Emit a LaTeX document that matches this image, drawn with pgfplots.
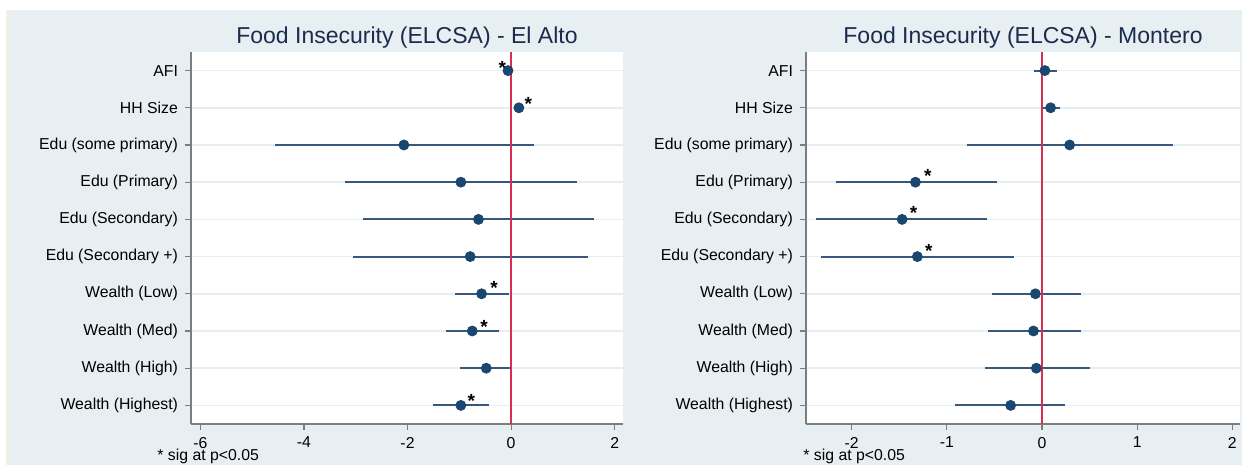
\documentclass[border=0pt]{standalone}
\usepackage{fontspec}
\setmainfont{Liberation Sans}
\usepackage{pgfplots}
\usepackage{pgfplotstable}
\pgfplotsset{compat=1.18}

\definecolor{bgcol}{RGB}{232,239,242}
\definecolor{creamcol}{RGB}{244,239,224}
\definecolor{navy}{RGB}{26,71,111}
\definecolor{cicol}{RGB}{55,88,124}
\definecolor{redline}{RGB}{214,47,82}
\definecolor{titlecol}{RGB}{28,43,78}
\definecolor{gridcol}{RGB}{230,238,240}
\definecolor{axgray}{RGB}{125,125,125}

% row (10 = top), estimate, lower CI, upper CI
\pgfplotstableread{
y est lo hi
10 -0.06 -0.10 -0.02
9 0.15 0.10 0.20
8 -2.07 -4.56 0.45
7 -0.97 -3.20 1.27
6 -0.63 -2.86 1.60
5 -0.79 -3.06 1.49
4 -0.57 -1.09 -0.05
3 -0.75 -1.25 -0.24
2 -0.48 -0.98 0.02
1 -0.97 -1.50 -0.43
}\elalto
\pgfplotstableread{
x y
-0.17 10.17
0.33 9.22
-0.33 4.27
-0.52 3.22
-0.77 1.24
}\elaltostars
\pgfplotstableread{
y est lo hi
10 0.03 -0.08 0.16
9 0.09 0.00 0.19
8 0.29 -0.79 1.38
7 -1.33 -2.17 -0.47
6 -1.47 -2.37 -0.58
5 -1.31 -2.32 -0.29
4 -0.07 -0.53 0.41
3 -0.09 -0.57 0.41
2 -0.06 -0.60 0.50
1 -0.33 -0.91 0.24
}\montero
\pgfplotstableread{
x y
-1.20 7.28
-1.35 6.28
-1.19 5.27
}\monterostars

\pgfplotsset{
  coefaxis/.style={
    scale only axis,
    anchor=south west,
    height=186pt,
    ymin=0.5, ymax=10.5,
    ytick={1,...,10},
    yticklabels={Wealth (Highest),Wealth (High),Wealth (Med),Wealth (Low),Edu (Secondary +),Edu (Secondary),Edu (Primary),Edu (some primary),HH Size,AFI},
    axis x line*=bottom,
    axis y line*=left,
    axis line style={axgray, line width=0.6pt},
    tick style={axgray, line width=0.6pt},
    major tick length=3pt,
    tick align=outside,
    xtick pos=bottom, ytick pos=left,
    ymajorgrids,
    major grid style={gridcol, line width=0.8pt},
    axis background/.style={fill=white},
    ticklabel style={font=\fontsize{7.9}{9}\selectfont, text=black},
    /pgf/number format/assume math mode=true,
    title style={font=\fontsize{11.5}{13}\selectfont, text=titlecol, anchor=base, at={(0.5,1)}, yshift=-2pt},
    clip=false,
  },
  ci/.style={only marks, mark=none,
    error bars/.cd, x dir=both, x explicit, error mark=none,
    error bar style={draw=cicol, line width=1pt, solid}},
  pts/.style={only marks, mark=*, mark size=2.5pt, mark options={fill=navy, draw=navy}},
  stars/.style={only marks, mark=none, nodes near coords={\textbf{*}},
    every node near coord/.style={anchor=center, font=\fontsize{9.5}{10}\selectfont, text=black, yshift=-2pt}},
}

\begin{document}
\begin{tikzpicture}
\useasboundingbox (0,0) rectangle (622pt,232.5pt);
\fill[bgcol] (3.5pt,0) rectangle (621pt,227.5pt);
\fill[creamcol] (3pt,0) rectangle (4pt,227.5pt);

\begin{axis}[coefaxis,
  at={(95.5pt,20.5pt)}, width=216pt,
  xmin=-6.18, xmax=2.16, xtick={-6,-4,-2,0,2},
  title={Food Insecurity (ELCSA) - El Alto}]
  \addplot[ci] table[x=est, y=y,
    x error minus expr=\thisrow{est}-\thisrow{lo},
    x error plus expr=\thisrow{hi}-\thisrow{est}] {\elalto};
  \addplot[redline, line width=1pt] coordinates {(0,0.5) (0,10.5)};
  \addplot[pts] table[x=est, y=y] {\elalto};
  \addplot[stars] table[x=x, y=y] {\elaltostars};
\end{axis}

\begin{axis}[coefaxis,
  at={(403pt,20.5pt)}, width=217pt,
  xmin=-2.48, xmax=2.08, xtick={-2,-1,0,1,2},
  title={Food Insecurity (ELCSA) - Montero}]
  \addplot[ci] table[x=est, y=y,
    x error minus expr=\thisrow{est}-\thisrow{lo},
    x error plus expr=\thisrow{hi}-\thisrow{est}] {\montero};
  \addplot[redline, line width=1pt] coordinates {(0,0.5) (0,10.5)};
  \addplot[pts] table[x=est, y=y] {\montero};
  \addplot[stars] table[x=x, y=y] {\monterostars};
\end{axis}

\node[anchor=base west, font=\fontsize{7.9}{9}\selectfont, inner sep=0pt] at (78.5pt,2pt) {* sig at p<0.05};
\node[anchor=base west, font=\fontsize{7.9}{9}\selectfont, inner sep=0pt] at (401.5pt,2pt) {* sig at p<0.05};
\end{tikzpicture}
\end{document}
